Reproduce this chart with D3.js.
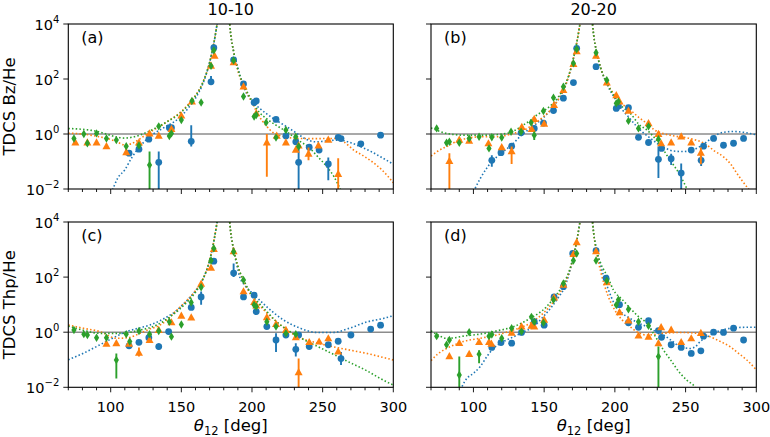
<!DOCTYPE html>
<html><head><meta charset="utf-8">
<script src="https://cdn.jsdelivr.net/npm/d3@7/dist/d3.min.js"></script>
<style>body{margin:0;background:#fff} text{font-family:"DejaVu Sans",sans-serif;fill:#000}</style>
</head><body><svg id="c" width="770" height="437"></svg>
<script>
// ---------- labels / ticks ----------
const colTitles = ["10-10", "20-20"];
const rowLabels = ["TDCS Bz/He", "TDCS Thp/He"];
const panelTags = ["(a)", "(b)", "(c)", "(d)"];
const thetaMajor = [100, 150, 200, 250, 300];
const thetaMinor = [70, 80, 90, 110, 120, 130, 140, 160, 170, 180, 190, 210, 220, 230, 240, 260, 270, 280, 290];
const tdcsTicks = [1e-2, 1, 1e2, 1e4];
const tdcsTickExp = ["\u22122", "0", "2", "4"];
const thetaDomain = [70, 300];
const tdcsDomain = [1e-2, 1e4];

// ---------- measured points: [theta, TDCS, errLow?, errHigh?] ----------
const aBlue = [[113,0.20],[120,0.28],[127,0.65],[134,0.093,0.001,0.23],[141.5,1.7],[143,1.7],[157,0.54,0.35,2.1],[171,79,60,129],[173,1380],[187,490],[194,66],[201.5,14],[203,16],[217,3.4],[224,0.85],[231,0.52],[233,0.093,0.001,0.35],[240.5,0.33],[247.5,0.26],[254,0.081,0.021,0.14],[261,0.76],[263,0.68],[277,0.44],[291,0.91,0.78,1.05]];
const aOrange = [[75,0.52],[83.5,0.52],[90,0.52],[97,0.38],[111,0.23,0.17,0.30],[120,0.52],[127.5,1.1],[134,0.91],[143,1.6],[150,4.9],[157.5,16],[171,320],[173.5,740],[187,430],[194,56],[203,6.0],[210.5,0.52,0.028,1.0],[217.5,0.91],[224,0.52],[231,0.28],[233,0.40],[240,0.20,0.11,0.32],[247,0.40],[254,0.65],[261,0.037,0.001,0.13]];
const aGreen = [[74,0.69],[81,1.0],[83.5,0.46],[90,1.05],[97,0.69],[104,0.60],[111,0.36],[120,0.38],[127.5,0.074,0.001,0.23],[134,1.9],[141.5,0.85],[143,1.05],[150,3.2],[157.5,16],[164,14],[171,300],[173,1100],[187,470],[194,23],[201.5,4.3],[203,4.9],[210,2.6],[217,0.74],[224,1.4],[231,0.79],[233,0.35]];

const bBlue = [[113,0.11,0.065,0.17],[119.5,0.21],[127,0.36],[133.7,1.1],[143,1.6],[149.5,2.5],[156.6,7.1],[163.6,20],[170.7,74],[173,1300],[186.7,280],[201,8.5],[202.5,10.5],[209.6,9.1],[216.7,0.76],[223.8,0.49],[230.8,0.12,0.025,0.35],[233,0.30],[239.8,0.126,0.074,0.19],[246.9,0.038,0.01,0.085],[254,0.26],[261,0.11,0.068,0.16],[262.7,0.36],[269.8,0.69],[276.8,0.39],[283.9,0.46],[291,0.69]];
const bOrange = [[83,0.11,0.001,0.2],[90,0.65],[97,0.60],[110.6,0.48],[120,0.35],[127,0.25,0.081,0.35],[134.2,1.9],[141.2,1.6],[143,3.7],[150,2.5],[157,12],[163.6,42],[170.7,370],[173,1070],[186.7,740],[194.3,79],[201,27],[203.3,16],[209.6,7.4],[223.8,2.6],[230.8,1.05],[232.7,0.48],[239.8,0.52],[246.9,0.85],[254,0.52],[260.8,0.22,0.08,0.32]];
const bGreen = [[74,1.6],[81,0.48],[83,0.52],[90,0.48],[97,0.69],[104,0.79],[111,0.30],[113,0.76],[120,0.74],[126.6,1.2],[133.7,1.2],[140.8,2.6],[143,0.91,0.6,1.15],[149.5,6.9],[156.6,21],[163.6,52],[170.7,370],[173,1200],[186.7,910],[194.3,91],[201,13],[202.5,15],[209.6,3.0],[216.7,1.6],[223.8,1.9],[230.8,0.65]];

const cBlue = [[113,0.32],[120,0.43],[127,0.63],[134,0.30,0.24,0.40],[141,1.05],[157,7.9],[164,19,10,30],[173,380],[187,140,100,310],[194,19],[201.5,22],[203,5.6],[210.5,1.6],[217,0.52,0.19,0.91],[224,0.79],[231,0.24,0.13,0.40],[233,0.79],[240.5,0.30],[254,0.35],[261,0.47],[263,0.11,0.065,0.19],[270,0.79],[284,1.3],[291,1.8]];
const cOrange = [[97,0.40],[104,0.42],[113,0.40],[120,0.19,0.13,0.28],[127.5,0.55],[134,1.26],[143,2.4],[150,4.2],[157,3.6],[164,60],[171,230],[173,1100],[187,910],[194,32],[201.5,13],[203,9.8],[210.5,3.7],[217,2.1],[224,1.26],[231,0.69],[233,0.037,0.001,0.11],[240.5,0.46],[247.5,0.48],[254,0.63],[261,0.21]];
const cGreen = [[74,1.2],[81,0.85],[83.5,0.79],[90,0.63],[97,0.63],[104,0.098,0.021,0.17],[111,0.85],[113.5,0.46],[120,1.1],[127.5,0.85],[134,1.1],[141.5,2.4],[143,0.69],[150,1.9],[157,12],[164,43],[171,400],[173,1100],[187,830],[194,78],[201.5,9.8],[203,8.5],[210.5,2.4],[217,1.6],[224,0.91],[231,0.85]];

const dBlue = [[113,0.28],[119.5,0.42],[127,0.40],[134,0.98],[143,2.4],[150,1.8],[157,19],[163.6,45],[170.2,720],[186.7,910],[193.8,91],[203.3,10],[209.6,2.2],[216.7,1.5],[223.8,2.6],[230.8,1.15],[233,0.65],[239.8,0.35],[246.9,0.28],[254,0.17],[260.8,0.21],[262.7,0.72],[269.8,1.0],[276.8,0.98],[283.9,1.4],[291,0.52,0.42,0.65]];
const dOrange = [[83,0.14],[90,0.43],[97,0.17],[104,0.46],[111,0.46],[112.7,0.40],[127,1.0],[134,1.7],[141,1.8],[143,1.7],[150,3.0],[157,19],[163.6,56],[170.7,720],[173,1950],[186.7,910],[194.3,68],[203.3,5.6],[209.6,2.8],[216.7,0.79],[223.8,0.72],[230.8,0.42],[232.7,1.6],[239.8,1.3],[246.9,0.46],[254,0.63],[260.8,0.98]];
const dGreen = [[74,0.72],[81,0.35],[83,0.52],[90,0.028,0.01,0.13],[97,1.0],[104,0.16,0.074,0.22],[111,0.72],[113,0.83],[120,0.60],[127,1.4],[134,1.05],[141,3.6],[143,2.4],[149.5,2.2],[156.6,15],[163.6,59],[170.7,400],[173,720],[186.7,400],[194.3,74],[201,9.8],[202.5,15],[209.6,6.8],[216.7,2.4],[223.8,1.7],[230.8,0.13,0.01,0.30]];

// ---------- fitted curves, null = break at the 180 deg pole ----------
const aBlueFit = [[98,0.004],[101.5,0.01],[105,0.025],[110,0.05],[115,0.14],[120,0.32],[125,0.6],[130,1.0],[135,1.41],[140,2.0],[145,2.82],[150,4.47],[155,8.91],[160,20],[165,63],[170,400],[173,2000],[175,7943],[176.5,25119],null,[183.5,25119],[185,3981],[187,1000],[190,251],[195,40],[200,16],[205,8.9],[210,5.6],[217,3.16],[225,1.78],[231.6,1.07],[238,0.66],[245,0.52],[250,0.54],[255,0.575],[262,0.60],[270,0.48],[276.5,0.35],[284,0.234],[291,0.148],[300,0.08]];
const aOrangeFit = [[70,1.07],[80,1.0],[90,0.83],[100,0.63],[105,0.5],[110,0.4],[115,0.45],[120,0.63],[125,0.95],[130,1.38],[135,1.91],[140,2.82],[145,4.17],[150,6.61],[155,12],[160,25],[165,71],[170,400],[173,2000],[175,7943],[176.5,25119],null,[183.5,25119],[185,3981],[187,1000],[190,200],[195,45],[200,14],[205,4.47],[210,2.0],[215,1.12],[220,0.87],[225,0.76],[232,0.69],[245,0.68],[260,0.69],[265,0.52],[272,0.26],[278,0.17],[284,0.107],[292,0.049],[300,0.017]];
const aGreenFit = [[70,1.58],[80,1.48],[90,1.26],[100,0.89],[105,0.76],[110,0.71],[115,0.76],[120,0.89],[125,1.12],[130,1.48],[135,2.0],[140,2.82],[145,3.98],[150,6.31],[155,11.2],[160,24],[165,71],[170,400],[173,2000],[175,7943],[176.5,25119],null,[183.5,25119],[185,3981],[187,1000],[190,224],[195,50],[200,16],[205,6.3],[210,3.7],[217,2.09],[224.6,1.2],[232,0.63],[241,0.30],[247,0.141],[253,0.065],[258,0.028],[262.5,0.01],[264,0.007]];

const bBlueFit = [[99,0.006],[101,0.01],[105,0.025],[110,0.063],[116.5,0.148],[122,0.25],[127,0.4],[134,0.91],[140,1.58],[145,2.51],[150,4.17],[155,7.94],[160,18],[165,56],[170,400],[173,2000],[175,7943],[176.5,25119],null,[183.5,25119],[185,3981],[187,1000],[190,251],[195,56],[200,20],[205,7.94],[210,3.98],[215,2.0],[220,1.12],[225,0.71],[230,0.45],[235,0.32],[241.5,0.24],[248.6,0.23],[255,0.26],[260.3,0.355],[265,0.52],[269.6,0.79],[276.7,1.15],[283.8,1.23],[291,1.15],[298,0.98],[300,0.93]];
const bOrangeFit = [[70,0.158],[75,0.24],[81,0.35],[90.5,0.60],[97,0.72],[104.7,0.79],[116.5,0.79],[128.3,1.05],[135,1.32],[140,1.86],[145,2.82],[150,4.47],[155,7.94],[160,18],[165,56],[170,400],[173,2000],[175,7943],[176.5,25119],null,[183.5,25119],[185,3981],[187,1000],[190,251],[195,63],[200,25],[205,12.6],[211,7.41],[217,3.98],[222.6,2.45],[228,1.41],[234,1.05],[243,0.83],[253,0.69],[265,0.40],[270,0.25],[276.8,0.148],[282,0.079],[286.3,0.037],[290,0.02],[294.5,0.01],[296,0.008]];
const bGreenFit = [[70,1.66],[75,1.32],[81,1.05],[92.9,0.91],[109.4,0.91],[123.5,1.05],[130,1.41],[135.3,2.14],[140,3.02],[144.8,4.9],[150,7.08],[155,11.2],[160,22],[165,63],[170,400],[173,2000],[175,7943],[176.5,25119],null,[183.5,25119],[185,3981],[187,1000],[190,251],[195,63],[200,22],[205,10],[211,5.62],[217,2.24],[222.6,1.41],[229,0.63],[234,0.28],[239,0.112],[245,0.04],[251,0.01],[253,0.006]];

const cBlueFit = [[70,0.1],[80,0.166],[92.4,0.35],[100,0.56],[111.3,1.05],[120,1.41],[127.8,1.82],[135,2.63],[140,3.63],[145,5.25],[150,8.91],[155,16],[160,32],[165,79],[170,400],[173,2000],[175,7943],[176.5,25119],null,[183.5,25119],[185,3981],[187,1000],[189,316],[191.5,95],[195,50],[200.9,24.5],[210.3,8.5],[222.1,2.82],[233.9,1.41],[245.7,0.98],[257.5,0.98],[269.3,1.41],[281.1,2.34],[292.9,3.16],[300,3.98]];
const cOrangeFit = [[70,1.82],[80,1.41],[92.4,1.05],[104.2,0.60],[112,0.63],[120.8,0.91],[127,1.26],[135,1.82],[140,2.82],[144.4,4.79],[150,8.91],[155,16],[160,32],[165,79],[170,400],[173,2000],[175,7943],[176.5,25119],null,[183.5,25119],[185,3981],[187,1000],[190,251],[195,56],[200,20],[205,10],[210.5,5.01],[217,2.51],[224.7,1.2],[234,0.63],[245,0.42],[257.6,0.295],[270,0.22],[281.2,0.17],[290,0.132],[300,0.098]];
const cGreenFit = [[70,1.66],[80,1.2],[92.4,0.91],[106.6,0.91],[120.8,1.2],[132.6,1.82],[142,3.63],[148,6.31],[155,14],[160,28],[165,79],[170,400],[173,2000],[175,7943],[176.5,25119],null,[183.5,25119],[185,3981],[187,1000],[190,251],[195,63],[200,22],[205,11.2],[210.5,5.62],[217,2.51],[224.7,1.26],[234.1,0.63],[245,0.33],[257.6,0.158],[270,0.076],[281.2,0.04],[290,0.022],[300,0.012]];

const dBlueFit = [[90,0.006],[91.7,0.01],[95,0.02],[100,0.032],[104.7,0.056],[110,0.141],[114.1,0.257],[120,0.42],[128.3,0.68],[135,1.0],[142.4,1.58],[150,3.98],[155,7.94],[160,18],[165,50],[170,400],[173,2000],[175,7943],[176.5,25119],null,[183.5,25119],[185,3981],[187,1000],[190,251],[195,40],[200,10],[205,5.01],[210.8,3.16],[216,2.24],[222.6,1.58],[228,1.12],[234.4,0.79],[240,0.5],[246.2,0.30],[253.3,0.257],[257,0.30],[260.3,0.46],[265,0.66],[269.8,0.91],[275,1.17],[281.6,1.38],[293.3,1.51],[300,1.51]];
const dOrangeFit = [[70,0.093],[75,0.166],[81,0.257],[87,0.355],[92.9,0.46],[104.7,0.60],[116.5,0.79],[128.3,1.2],[135,1.58],[140,2.09],[145,3.16],[150,5.25],[155,10],[160,22],[165,63],[170,400],[173,2000],[175,7943],[176.5,25119],null,[183.5,25119],[185,3981],[187,794],[190,158],[195,22],[200,6.31],[205,2.82],[210.8,1.58],[216,1.0],[222.6,0.79],[234.4,0.91],[246.2,0.98],[258,0.91],[265,0.76],[269.8,0.60],[275,0.45],[281.6,0.295],[287,0.178],[293.3,0.098],[300,0.043]];
const dGreenFit = [[70,1.12],[75,0.79],[81,0.60],[87,0.63],[92.9,0.72],[104.7,0.85],[116.5,1.12],[128.3,1.58],[140,3.16],[151.8,8.51],[157,17.8],[162,40],[166,100],[170,400],[173,2000],[175,7943],[176.5,25119],null,[183.5,25119],[185,3981],[187,1000],[190,316],[195,100],[199,34],[205,15.8],[210.8,7.41],[216,3.98],[222.6,2.09],[228,0.79],[234.4,0.224],[240,0.089],[246.2,0.032],[251,0.018],[256.8,0.01],[258,0.008]];

const seriesColors = ["#1f77b4", "#ff7f0e", "#2ca02c"];
const seriesShapes = ["circle", "triangle", "thindiamond"];

// ---------- layout ----------
const cols = [{x0: 68.3, x1: 393.3}, {x0: 431, x1: 756.3}];
const rows = [{y0: 24, y1: 189}, {y0: 222, y1: 387.3}];
const panels = [
  {r: 0, c: 0, pts: [aBlue, aOrange, aGreen], fits: [aBlueFit, aOrangeFit, aGreenFit]},
  {r: 0, c: 1, pts: [bBlue, bOrange, bGreen], fits: [bBlueFit, bOrangeFit, bGreenFit]},
  {r: 1, c: 0, pts: [cBlue, cOrange, cGreen], fits: [cBlueFit, cOrangeFit, cGreenFit]},
  {r: 1, c: 1, pts: [dBlue, dOrange, dGreen], fits: [dBlueFit, dOrangeFit, dGreenFit]}
];

const svg = d3.select("#c");
const FS = 14.5, LFS = 16.5;

function markerPath(shape) {
  if (shape === "triangle") { const w = 4, h = 3.6; return `M0,${-h}L${w},${h}L${-w},${h}Z`; }
  if (shape === "thindiamond") { const w = 2.6, h = 4.2; return `M0,${-h}L${w},0L0,${h}L${-w},0Z`; }
  return null;
}

panels.forEach((p, i) => {
  const col = cols[p.c], row = rows[p.r];
  const x = d3.scaleLinear().domain(thetaDomain).range([col.x0, col.x1]);
  const y = d3.scaleLog().domain(tdcsDomain).range([row.y1, row.y0]);
  const g = svg.append("g");
  const clipId = "clip" + i;
  svg.append("clipPath").attr("id", clipId).append("rect")
    .attr("x", col.x0).attr("y", row.y0).attr("width", col.x1 - col.x0).attr("height", row.y1 - row.y0);
  const inner = g.append("g").attr("clip-path", `url(#${clipId})`);

  inner.append("line").attr("x1", x(thetaDomain[0])).attr("x2", x(thetaDomain[1]))
    .attr("y1", y(1)).attr("y2", y(1)).attr("stroke", "#8c8c8c").attr("stroke-width", 1.6);

  const line = d3.line().defined(d => d !== null).x(d => x(d[0])).y(d => y(d[1])).curve(d3.curveMonotoneX);
  p.fits.forEach((f, k) => {
    inner.append("path").attr("d", line(f)).attr("fill", "none")
      .attr("stroke", seriesColors[k]).attr("stroke-width", 1.6).attr("stroke-dasharray", "1.5,2.2");
  });

  p.pts.forEach((s, k) => {
    const sg = inner.append("g");
    s.filter(d => d.length > 2).forEach(d => {
      sg.append("line").attr("x1", x(d[0])).attr("x2", x(d[0]))
        .attr("y1", y(Math.max(d[2], 1e-4))).attr("y2", y(d[3]))
        .attr("stroke", seriesColors[k]).attr("stroke-width", 1.9);
    });
    s.forEach(d => {
      const cx = x(d[0]), cy = y(d[1]);
      if (seriesShapes[k] === "circle") {
        sg.append("circle").attr("cx", cx).attr("cy", cy).attr("r", 3.4).attr("fill", seriesColors[k]);
      } else {
        sg.append("path").attr("d", markerPath(seriesShapes[k])).attr("transform", `translate(${cx},${cy})`)
          .attr("fill", seriesColors[k]);
      }
    });
  });

  const tg = g.append("g").attr("stroke", "#000").attr("stroke-width", 0.9);
  thetaMajor.forEach(t => tg.append("line").attr("x1", x(t)).attr("x2", x(t)).attr("y1", row.y1).attr("y2", row.y1 + 5));
  thetaMinor.forEach(t => tg.append("line").attr("x1", x(t)).attr("x2", x(t)).attr("y1", row.y1).attr("y2", row.y1 + 3));
  tdcsTicks.forEach(t => tg.append("line").attr("x1", col.x0 - 5).attr("x2", col.x0).attr("y1", y(t)).attr("y2", y(t)));

  if (p.r === 1) {
    thetaMajor.forEach(t => g.append("text").attr("x", x(t)).attr("y", row.y1 + 25).attr("text-anchor", "middle")
      .attr("font-size", FS).text(t));
    const xl = g.append("text").attr("x", (col.x0 + col.x1) / 2).attr("y", 431).attr("text-anchor", "middle").attr("font-size", LFS);
    xl.append("tspan").attr("font-style", "italic").text("\u03b8");
    xl.append("tspan").attr("font-size", 11.5).attr("dy", 3.5).text("12");
    xl.append("tspan").attr("dy", -3.5).text(" [deg]");
  }
  if (p.c === 0) {
    tdcsTicks.forEach((t, j) => {
      const tt = g.append("text").attr("x", col.x0 - 9).attr("y", y(t) + 5.5).attr("text-anchor", "end").attr("font-size", FS);
      tt.append("tspan").text("10");
      tt.append("tspan").attr("font-size", 10).attr("dy", -6.5).text(tdcsTickExp[j]);
    });
    g.append("text").attr("transform", `translate(15,${(row.y0 + row.y1) / 2}) rotate(-90)`)
      .attr("text-anchor", "middle").attr("font-size", LFS).text(rowLabels[p.r]);
  }
  if (p.r === 0) {
    g.append("text").attr("x", (col.x0 + col.x1) / 2).attr("y", 15).attr("text-anchor", "middle")
      .attr("font-size", 16).text(colTitles[p.c]);
  }
  g.append("text").attr("x", col.x0 + 13).attr("y", row.y0 + 19).attr("font-size", 16).text(panelTags[i]);

  g.append("rect").attr("x", col.x0).attr("y", row.y0).attr("width", col.x1 - col.x0).attr("height", row.y1 - row.y0)
    .attr("fill", "none").attr("stroke", "#000").attr("stroke-width", 1.1);
});
</script></body></html>
